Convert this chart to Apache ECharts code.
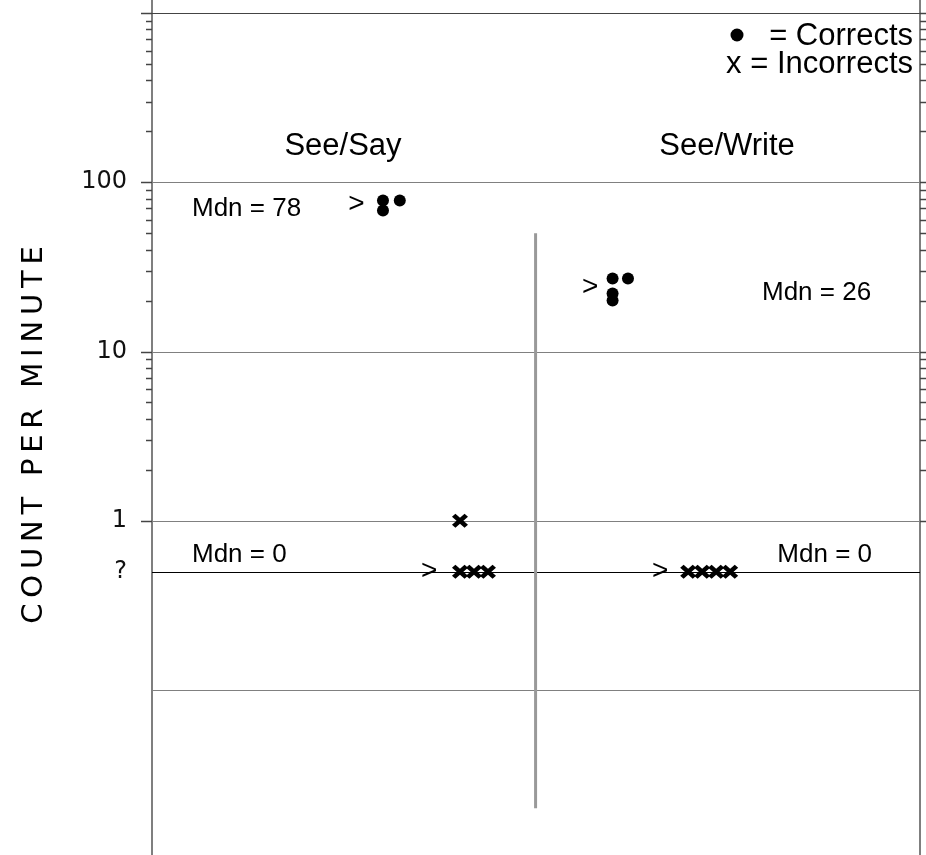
<!DOCTYPE html>
<html>
<head>
<meta charset="utf-8">
<script src="https://cdn.jsdelivr.net/npm/echarts@6/dist/echarts.min.js"></script>
<style>
  html, body { margin: 0; padding: 0; background: #fff; }
  #chart { width: 926px; height: 855px; }
</style>
</head>
<body>
<div id="chart"></div>
<script>
// ---- Chart data -------------------------------------------------------
const phases = ['See/Say', 'See/Write'];

// Vertical (log) scale labels; zero counts are recorded on the "?" row
const axisLabelValues = [100, 10, 1, 0.5];
const axisLabelTexts = ['100', '10', '1', '?'];
const ZERO_ROW = 0.5;
const gridDecades = [1000, 100, 10, 1, 0.1];
const tickedDecades = [1000, 100, 10, 1];
const minorTickDecades = [1, 10, 100];

// Corrects (count per minute) by day
const seeSayCorrectDays = [16.5, 16.5, 17.7];
const seeSayCorrects = [78, 68, 78];
const seeWriteCorrectDays = [32.9, 34.0, 32.9, 32.9];
const seeWriteCorrects = [27, 27, 22, 20];

// Incorrects (count per minute) by day
const seeSayIncorrectDays = [22, 22, 23, 24];
const seeSayIncorrects = [1, 0, 0, 0];
const seeWriteIncorrectDays = [38.3, 39.3, 40.3, 41.3];
const seeWriteIncorrects = [0, 0, 0, 0];

// ">" markers beside each cluster
const arrowDays = [14.6, 31.3, 19.8, 36.3];
const arrowValues = [74, 24, 0, 0];

// Medians per phase
const medianCorrects = [78, 26];
const medianIncorrects = [0, 0];

// Phase change line
const phaseChangeDay = 27.4;
const phaseLineRange = [0.02, 50];

// ---- Scale extents ----------------------------------------------------
const X_MIN = 0, X_MAX = 54.86;
const Y_MIN = 0.010595, Y_MAX = 1193.6;

const TEXT_FONT = '"Liberation Sans", Arial, Helvetica, sans-serif';
const AXIS_FONT = '"DejaVu Sans", Verdana, sans-serif';

const toPlot = v => (v === 0 ? ZERO_ROW : v);
const pairs = (xs, ys) => xs.map((x, i) => [x, toPlot(ys[i])]);

// Gridlines, ticks and tick labels, placed through the y scale
const scaleData = [];
gridDecades.forEach(d => {
  const li = axisLabelValues.indexOf(d);
  scaleData.push([X_MIN, d, tickedDecades.includes(d) ? 0 : 2, li]);
});
minorTickDecades.forEach(b => {
  for (let k = 2; k <= 9; k++) scaleData.push([X_MIN, b * k, 1, -1]);
});
scaleData.push([X_MIN, ZERO_ROW, 3, axisLabelValues.indexOf(ZERO_ROW)]);

const crisp = y => Math.round(y) + 0.5;

function renderScale(params, api) {
  const v = api.value(1);
  const kind = api.value(2);
  const li = api.value(3);
  const L = api.coord([X_MIN, v]);
  const R = api.coord([X_MAX, v]);
  const y = crisp(L[1]);
  const children = [];
  const seg = (x1, x2, stroke, w) => children.push({
    type: 'line',
    shape: { x1: x1, y1: y, x2: x2, y2: y },
    style: { stroke: stroke, lineWidth: w }
  });
  if (kind === 0) {
    seg(L[0], R[0], v >= 1000 ? '#444' : '#808080', 1);
    seg(L[0] - 11, L[0], '#444', 1.5);
    seg(R[0], R[0] + 6, '#444', 1.5);
  } else if (kind === 1) {
    seg(L[0] - 6, L[0], '#444', 1.5);
    seg(R[0], R[0] + 6, '#444', 1.5);
  } else if (kind === 2) {
    seg(L[0], R[0], '#808080', 1);
  } else if (kind === 3) {
    seg(L[0], R[0], '#000', 1);
  }
  if (li >= 0) {
    children.push({
      type: 'text',
      style: {
        text: axisLabelTexts[li],
        x: L[0] - 25, y: L[1],
        align: 'right', textAlign: 'right',
        verticalAlign: 'middle', textVerticalAlign: 'middle',
        fill: '#111',
        font: '24px ' + AXIS_FONT
      }
    });
  }
  return { type: 'group', children: children };
}

// ">" glyphs drawn at their data positions
function renderArrow(params, api) {
  const p = api.coord([api.value(0), api.value(1)]);
  return {
    type: 'text',
    style: {
      text: '>',
      x: p[0], y: p[1],
      align: 'center', textAlign: 'center',
      verticalAlign: 'middle', textVerticalAlign: 'middle',
      fill: '#000',
      font: '28px ' + TEXT_FONT
    }
  };
}

const CROSS = 'path://M0,3 L3,0 L7,4 L11,0 L14,3 L10,7 L14,11 L11,14 L7,10 L3,14 L0,11 L4,7 Z';

const mdnText = v => 'Mdn = ' + v;
const spaced = s => s.split('').join('\u2009');

const chart = echarts.init(document.getElementById('chart'), null, { renderer: 'canvas' });

chart.setOption({
  animation: false,
  backgroundColor: '#fff',
  grid: { left: 152, right: 6, top: 0, bottom: 0, containLabel: false },
  xAxis: {
    type: 'value', min: X_MIN, max: X_MAX, show: false
  },
  yAxis: [
    {
      type: 'log', min: Y_MIN, max: Y_MAX, position: 'left',
      axisLine: { show: true, lineStyle: { color: '#7f7f7f', width: 2 } },
      axisTick: { show: false }, axisLabel: { show: false }, splitLine: { show: false }
    },
    {
      type: 'log', min: Y_MIN, max: Y_MAX, position: 'right',
      axisLine: { show: true, lineStyle: { color: '#7f7f7f', width: 2 } },
      axisTick: { show: false }, axisLabel: { show: false }, splitLine: { show: false }
    }
  ],
  series: [
    {
      name: 'scale',
      type: 'custom',
      clip: false,
      silent: true,
      renderItem: renderScale,
      data: scaleData,
      z: 1
    },
    {
      name: 'phase change',
      type: 'line',
      silent: true,
      symbol: 'none',
      lineStyle: { color: '#999', width: 3 },
      data: [[phaseChangeDay, phaseLineRange[0]], [phaseChangeDay, phaseLineRange[1]]],
      z: 2
    },
    {
      name: 'Corrects',
      type: 'scatter',
      symbol: 'circle',
      symbolSize: 12,
      itemStyle: { color: '#000', opacity: 1 },
      data: pairs(seeSayCorrectDays, seeSayCorrects).concat(pairs(seeWriteCorrectDays, seeWriteCorrects)),
      z: 3
    },
    {
      name: 'Incorrects',
      type: 'scatter',
      symbol: CROSS,
      symbolSize: [16, 14],
      itemStyle: { color: '#000', opacity: 1 },
      data: pairs(seeSayIncorrectDays, seeSayIncorrects).concat(pairs(seeWriteIncorrectDays, seeWriteIncorrects)),
      z: 3
    },
    {
      name: 'arrows',
      type: 'custom',
      clip: false,
      silent: true,
      renderItem: renderArrow,
      data: pairs(arrowDays, arrowValues),
      z: 3
    }
  ],
  graphic: [
    // phase titles
    { type: 'text', x: 343, y: 146, style: { text: phases[0], font: '31px ' + TEXT_FONT, fill: '#000', align: 'center', textAlign: 'center', verticalAlign: 'middle', textVerticalAlign: 'middle' } },
    { type: 'text', x: 727, y: 146, style: { text: phases[1], font: '31px ' + TEXT_FONT, fill: '#000', align: 'center', textAlign: 'center', verticalAlign: 'middle', textVerticalAlign: 'middle' } },
    // key
    { type: 'circle', shape: { cx: 737, cy: 35, r: 6.5 }, style: { fill: '#000' } },
    { type: 'text', x: 913, y: 36, style: { text: '= Corrects', font: '31px ' + TEXT_FONT, fill: '#000', align: 'right', textAlign: 'right', verticalAlign: 'middle', textVerticalAlign: 'middle' } },
    { type: 'text', x: 913, y: 64, style: { text: 'x = Incorrects', font: '31px ' + TEXT_FONT, fill: '#000', align: 'right', textAlign: 'right', verticalAlign: 'middle', textVerticalAlign: 'middle' } },
    // medians
    { type: 'text', x: 192, y: 209, style: { text: mdnText(medianCorrects[0]), font: '26px ' + TEXT_FONT, fill: '#000', align: 'left', textAlign: 'left', verticalAlign: 'middle', textVerticalAlign: 'middle' } },
    { type: 'text', x: 762, y: 293, style: { text: mdnText(medianCorrects[1]), font: '26px ' + TEXT_FONT, fill: '#000', align: 'left', textAlign: 'left', verticalAlign: 'middle', textVerticalAlign: 'middle' } },
    { type: 'text', x: 192, y: 555, style: { text: mdnText(medianIncorrects[0]), font: '26px ' + TEXT_FONT, fill: '#000', align: 'left', textAlign: 'left', verticalAlign: 'middle', textVerticalAlign: 'middle' } },
    { type: 'text', x: 872, y: 555, style: { text: mdnText(medianIncorrects[1]), font: '26px ' + TEXT_FONT, fill: '#000', align: 'right', textAlign: 'right', verticalAlign: 'middle', textVerticalAlign: 'middle' } },
    // vertical axis title
    { type: 'text', x: 34, y: 435, rotation: Math.PI / 2, style: { text: spaced('COUNT PER MINUTE'), font: '29px ' + AXIS_FONT, fill: '#000', align: 'center', textAlign: 'center', verticalAlign: 'middle', textVerticalAlign: 'middle' } }
  ]
});
</script>
</body>
</html>
